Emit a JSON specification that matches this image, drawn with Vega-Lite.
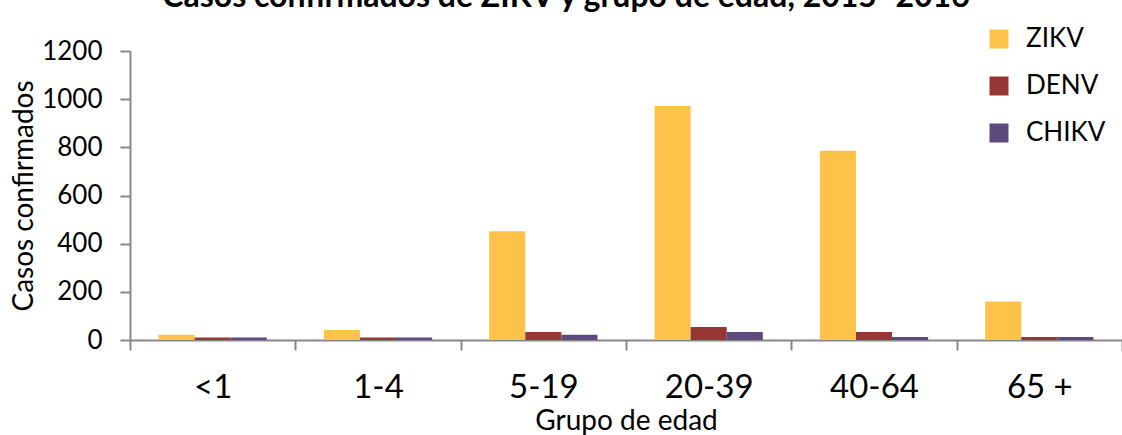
{
  "$schema": "https://vega.github.io/schema/vega-lite/v6.json",
  "width": 992,
  "height": 289,
  "autosize": {"type": "none"},
  "padding": {"left": 130, "top": 51, "right": 0, "bottom": 95},
  "background": "white",
  "title": {
    "text": "Casos confirmados de ZIKV y grupo de edad, 2015–2016",
    "fontSize": 32,
    "fontWeight": "bold",
    "font": "Lato",
    "color": "black",
    "anchor": "middle",
    "dx": -60,
    "dy": -8
  },
  "data": {
    "values": [
      {"grupo": "<1", "virus": "ZIKV", "casos": 22},
      {"grupo": "<1", "virus": "DENV", "casos": 10},
      {"grupo": "<1", "virus": "CHIKV", "casos": 10},
      {"grupo": "1-4", "virus": "ZIKV", "casos": 42},
      {"grupo": "1-4", "virus": "DENV", "casos": 10},
      {"grupo": "1-4", "virus": "CHIKV", "casos": 10},
      {"grupo": "5-19", "virus": "ZIKV", "casos": 452},
      {"grupo": "5-19", "virus": "DENV", "casos": 33},
      {"grupo": "5-19", "virus": "CHIKV", "casos": 22},
      {"grupo": "20-39", "virus": "ZIKV", "casos": 972},
      {"grupo": "20-39", "virus": "DENV", "casos": 54},
      {"grupo": "20-39", "virus": "CHIKV", "casos": 33},
      {"grupo": "40-64", "virus": "ZIKV", "casos": 786},
      {"grupo": "40-64", "virus": "DENV", "casos": 33},
      {"grupo": "40-64", "virus": "CHIKV", "casos": 12},
      {"grupo": "65 +", "virus": "ZIKV", "casos": 160},
      {"grupo": "65 +", "virus": "DENV", "casos": 12},
      {"grupo": "65 +", "virus": "CHIKV", "casos": 12}
    ]
  },
  "mark": {"type": "bar"},
  "encoding": {
    "x": {
      "field": "grupo",
      "type": "nominal",
      "sort": ["<1", "1-4", "5-19", "20-39", "40-64", "65 +"],
      "scale": {"paddingInner": 0, "paddingOuter": 0},
      "axis": {
        "title": "Grupo de edad",
        "labelAngle": 0,
        "tickBand": "extent",
        "domainColor": "#888888",
        "domainWidth": 2,
        "tickColor": "#888888",
        "tickWidth": 2,
        "tickSize": 10,
        "labelFont": "Lato",
        "labelFontSize": 33,
        "labelPadding": 21,
        "labelColor": "black",
        "titleFont": "Lato",
        "titleFontSize": 28,
        "titleFontWeight": "normal",
        "titleColor": "black",
        "titlePadding": 3
      }
    },
    "xOffset": {
      "field": "virus",
      "type": "nominal",
      "sort": ["ZIKV", "DENV", "CHIKV"],
      "scale": {"paddingInner": 0, "paddingOuter": 0.79}
    },
    "y": {
      "field": "casos",
      "type": "quantitative",
      "scale": {"domain": [0, 1200], "nice": false},
      "axis": {
        "title": "Casos confirmados",
        "values": [0, 200, 400, 600, 800, 1000, 1200],
        "format": "d",
        "grid": false,
        "domainColor": "#888888",
        "domainWidth": 2,
        "tickColor": "#888888",
        "tickWidth": 2,
        "tickSize": 10,
        "labelFont": "Lato",
        "labelFontSize": 26,
        "labelPadding": 18,
        "labelColor": "black",
        "titleFont": "Lato",
        "titleFontSize": 28,
        "titleFontWeight": "normal",
        "titleColor": "black",
        "titlePadding": 3
      }
    },
    "color": {
      "field": "virus",
      "type": "nominal",
      "sort": ["ZIKV", "DENV", "CHIKV"],
      "scale": {"domain": ["ZIKV", "DENV", "CHIKV"], "range": ["#FDC24A", "#973735", "#5F4A7E"]},
      "legend": {
        "orient": "none",
        "legendX": 856,
        "legendY": -25,
        "title": null,
        "symbolType": "square",
        "symbolSize": 361,
        "symbolStrokeWidth": 0,
        "symbolOpacity": 1,
        "labelFont": "Lato",
        "labelFontSize": 26,
        "labelColor": "black",
        "labelOffset": 14,
        "rowPadding": 21,
        "padding": 0
      }
    }
  },
  "config": {"view": {"stroke": null}}
}
